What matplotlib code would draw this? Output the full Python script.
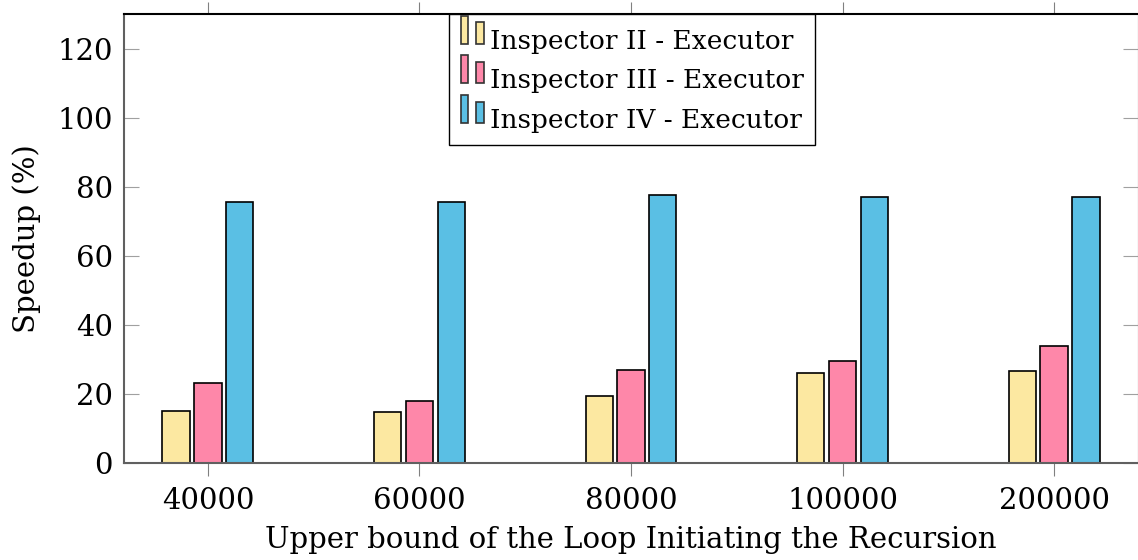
import numpy as np
import matplotlib
matplotlib.use('Agg')
import matplotlib.pyplot as plt
from matplotlib.patches import Rectangle

plt.rcParams['font.family'] = ['DejaVu Serif']

bounds = ['40000', '60000', '80000', '100000', '200000']
insp2 = [15.0, 14.7, 19.3, 26.1, 26.5]
insp3 = [23.2, 17.9, 27.0, 29.4, 33.8]
insp4 = [75.6, 75.7, 77.6, 77.0, 77.0]

names = ['Inspector II - Executor', 'Inspector III - Executor', 'Inspector IV - Executor']
colors = ['#FCE8A1', '#FE87A9', '#5ABFE4']


# legend marker like pgfplots ybar legend: two small bars
class TwoBars:
    def legend_artist(self, legend, orig_handle, fontsize, handlebox):
        x0, y0 = handlebox.xdescent, handlebox.ydescent
        w, h = handlebox.width, handlebox.height
        bw = w * 0.33
        fc = orig_handle.get_facecolor()
        r1 = Rectangle((x0, y0), bw, h, facecolor=fc, edgecolor='#333333',
                       linewidth=1.2, transform=handlebox.get_transform())
        r2 = Rectangle((x0 + w - bw, y0), bw, h * 0.77, facecolor=fc,
                       edgecolor='#333333', linewidth=1.2,
                       transform=handlebox.get_transform())
        handlebox.add_artist(r1)
        handlebox.add_artist(r2)
        return r1


fig = plt.figure(figsize=(11.38, 5.6), dpi=100)
ax = fig.add_axes([124/1138, 1 - 463/560, 1 - 124/1138, (463 - 14)/560])

x = np.arange(len(bounds))
step = 0.151
width = 0.128
handles = []
for i, (vals, c) in enumerate(zip([insp2, insp3, insp4], colors)):
    bars = ax.bar(x + (i - 1) * step, vals, width, color=c, edgecolor='black', linewidth=1.2)
    handles.append(bars.patches[0])

ax.set_xlim(-0.397, 4.397)
ax.set_ylim(0, 130)
ax.set_xticks(x)
ax.set_xticklabels(bounds)
ax.set_yticks(np.arange(0, 121, 20))

ax.tick_params(axis='x', direction='out', top=True, length=9, color='#808080',
               labelsize=21, pad=8)
ax.tick_params(axis='y', direction='in', right=True, length=11, color='#a0a0a0',
               labelsize=21, pad=8)

for s in ['left', 'bottom']:
    ax.spines[s].set_color('#606060')
    ax.spines[s].set_linewidth(1.5)
ax.spines['top'].set_color('black')
ax.spines['top'].set_linewidth(1.5)
ax.spines['right'].set_color('#606060')

ax.set_xlabel('Upper bound of the Loop Initiating the Recursion', fontsize=21, labelpad=8)
ax.set_ylabel('Speedup (%)', fontsize=21, labelpad=12)

leg = ax.legend(handles, names, loc='upper center', bbox_to_anchor=(0.501, 1.0),
                handler_map={Rectangle: TwoBars()},
                fontsize=19, frameon=True, fancybox=False, framealpha=1,
                edgecolor='black', handlelength=0.9, handleheight=1.25,
                handletextpad=0.2, borderpad=0.45, labelspacing=0.45,
                borderaxespad=0)
leg.get_frame().set_linewidth(1.0)

fig.savefig('out.png', dpi=100)
